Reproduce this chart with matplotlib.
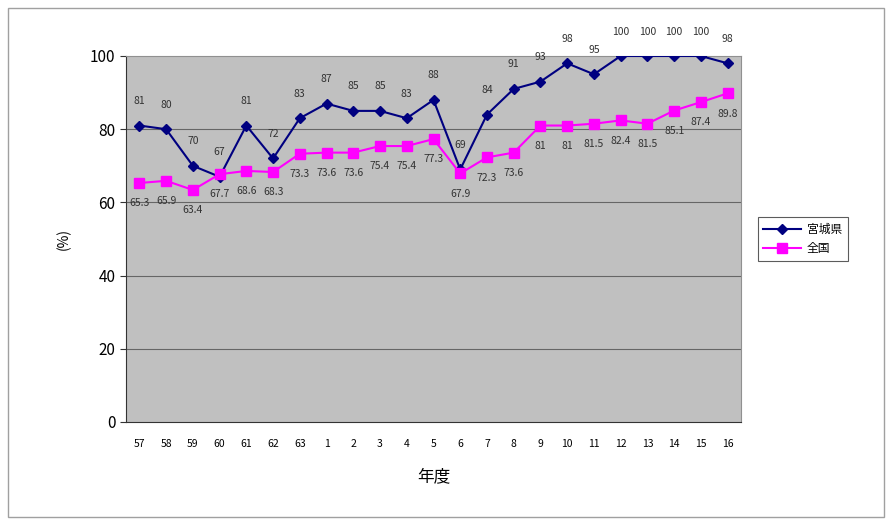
import matplotlib
matplotlib.use("Agg")
import matplotlib.pyplot as plt
from matplotlib.patches import Rectangle

plt.rcParams['font.family'] = ['Noto Sans CJK JP', 'DejaVu Sans']

years = ["57", "58", "59", "60", "61", "62", "63", "1", "2", "3", "4", "5", "6",
         "7", "8", "9", "10", "11", "12", "13", "14", "15", "16"]
miyagi = [81, 80, 70, 67, 81, 72, 83, 87, 85, 85, 83, 88, 69, 84, 91, 93, 98,
          95, 100, 100, 100, 100, 98]
national = [65.3, 65.9, 63.4, 67.7, 68.6, 68.3, 73.3, 73.6, 73.6, 75.4, 75.4,
            77.3, 67.9, 72.3, 73.6, 81, 81, 81.5, 82.4, 81.5, 85.1, 87.4, 89.8]
series_names = ["宮城県", "全国"]

fig = plt.figure(figsize=(8.9, 5.23), dpi=100)
fig.patch.set_facecolor("white")
fig.patches.append(Rectangle((8 / 890, 6 / 523), 876 / 890, 509 / 523,
                             transform=fig.transFigure, fill=False,
                             edgecolor="#a0a0a0", linewidth=1))

ax = fig.add_axes([126 / 890, 1 - 422 / 523, 615 / 890, 366 / 523])
ax.set_facecolor("#c0c0c0")
x = list(range(len(years)))

ax.set_ylim(0, 100)
ax.set_xlim(-0.5, len(years) - 0.5)
ax.set_yticks([0, 20, 40, 60, 80, 100])
for y in [20, 40, 60, 80]:
    ax.axhline(y, color="#666666", linewidth=0.8, zorder=1)

ax.plot(x, miyagi, color="#000080", marker="D", markersize=5, linewidth=1.5,
        label=series_names[0], zorder=3)
ax.plot(x, national, color="#ff00ff", marker="s", markersize=6.5, linewidth=1.5,
        label=series_names[1], zorder=3)

for xi, v in zip(x, miyagi):
    ax.annotate(f"{v:g}", (xi, v), xytext=(0, 14), textcoords="offset points",
                ha="center", va="bottom", fontsize=7.5, color="#333333")
for xi, v in zip(x, national):
    ax.annotate(f"{v:g}", (xi, v), xytext=(0, -11), textcoords="offset points",
                ha="center", va="top", fontsize=7.5, color="#333333")

ax.set_xticks(x)
ax.set_xticklabels(years, fontsize=7.5)
ax.tick_params(axis="y", labelsize=11, length=4, color="#333333")
ax.tick_params(axis="x", length=0, pad=12)
for side in ["left", "bottom"]:
    ax.spines[side].set_color("#333333")
for side in ["top", "right"]:
    ax.spines[side].set_color("#909090")

ax.set_ylabel("(%)", fontsize=10, labelpad=14)
ax.set_xlabel("年度", fontsize=12, labelpad=14)

leg = ax.legend(loc="center left", bbox_to_anchor=(1.018, 0.5), fontsize=8.5,
                frameon=True, fancybox=False, edgecolor="#333333",
                handlelength=3.2, borderpad=0.45, labelspacing=0.55,
                handletextpad=0.5)
leg.get_frame().set_linewidth(0.8)

fig.savefig("out.png", dpi=100)
